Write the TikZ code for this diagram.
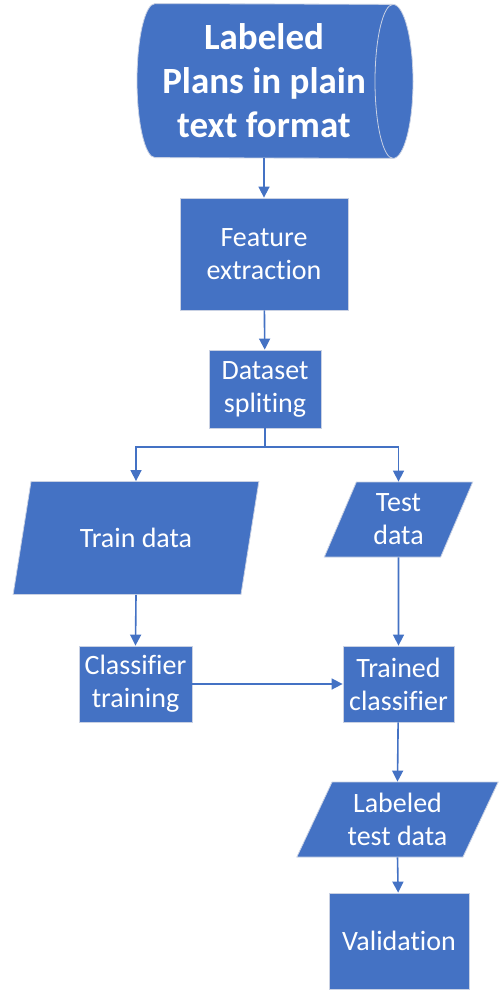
\documentclass[tikz,border=0pt]{standalone}
\usepackage{fontspec}
\setmainfont[Ligatures=NoCommon]{Carlito}
\usetikzlibrary{arrows.meta,shapes.geometric,backgrounds}
\definecolor{flow}{HTML}{4472C4}
\definecolor{rim}{HTML}{C9D1E3}

\begin{document}
\begin{tikzpicture}[x=0.5pt, y=-0.5pt,
    every node/.style={text=white, align=center, inner sep=0pt,
      font=\fontsize{14}{16.5}\selectfont},
    proc/.style={rectangle, fill=flow, draw=rim, line width=0.4pt},
    data/.style={trapezium, trapezium stretches=true, fill=flow, draw=rim, line width=0.4pt},
    arr/.style={-{Triangle[length=5.5pt,width=5.5pt]}, flow, line width=0.8pt}]
      \useasboundingbox (0,0) rectangle (500,990);
      % source
      \node[minimum width=60pt, minimum height=77pt,
        font=\bfseries\fontsize{18.5}{22}\selectfont] (plans) at (264,81) {Labeled\\Plans in plain\\text format};
      \begin{pgfonlayer}{background}
        \coordinate (tl) at ([xshift=-54.5pt]plans.north);
        \coordinate (br) at ([xshift=64.5pt]plans.south);
        \filldraw[fill=flow, draw=rim, line width=0.4pt] (tl)
          arc[start angle=90, end angle=270, x radius=9pt, y radius=38.5pt] -- (br)
          arc[start angle=-90, end angle=90, x radius=10pt, y radius=38.5pt] -- cycle;
        \draw[rim, line width=0.4pt] (br)
          arc[start angle=-90, end angle=-270, x radius=9pt, y radius=38.5pt];
      \end{pgfonlayer}
      \node[proc, minimum width=84pt, minimum height=56pt] (feat) at (264,254) {Feature\\extraction};
      \node[proc, minimum width=56pt, minimum height=39pt] (split) at (265,389) {Dataset\\spliting};
      \coordinate (fork) at (265,447);
      % the two branches
      \node[data, trapezium left angle=64, trapezium right angle=116,
        minimum width=123pt, minimum height=56.5pt] (train) at (136,538) {Train data};
      \node[data, trapezium left angle=69.5, trapezium right angle=110.5,
        minimum width=74.5pt, minimum height=37.5pt] (test) at (398.5,519.5) {Test\\data};
      \node[proc, minimum width=56.5pt, minimum height=38pt] (clf) at (135.5,684) {Classifier\\training};
      \node[proc, minimum width=55.5pt, minimum height=38pt] (trained) at (398.5,684) {Trained\\classifier};
      \node[data, trapezium left angle=63, trapezium right angle=117,
        minimum width=101pt, minimum height=37.5pt] (lbltest) at (397.5,819.5) {Labeled\\test data};
      \node[proc, minimum width=70pt, minimum height=48pt] (valid) at (399,941) {Validation};
      % flow lines
      \draw[arr] (plans.south) -- (feat.north);
      \draw[arr] (feat) -- (split);
      \draw[flow, line width=0.8pt] (split) -- (fork);
      \draw[arr] (fork) -| (train.north);
      \draw[arr] (fork) -| (test.north);
      \draw[arr] (train.south) -- (clf.north);
      \draw[arr] (test.south) -- (trained.north);
      \draw[arr] (clf) -- (trained);
      \draw[arr] (trained) -- (lbltest.north);
      \draw[arr] (lbltest.south) -- (valid);
    \end{tikzpicture}
\end{document}
